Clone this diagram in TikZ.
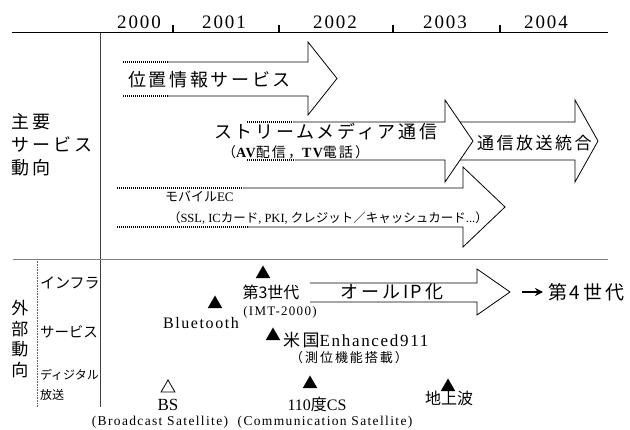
\documentclass[tikz,border=0pt]{standalone}
\usepackage{fontspec}
\setmainfont{Liberation Serif}
\newfontfamily\jp{Noto Sans CJK JP}
\newfontfamily\jpA[LetterSpace=15]{Noto Sans CJK JP}
\newfontfamily\rmA[LetterSpace=10]{Liberation Serif}
\usetikzlibrary{arrows.meta,shapes.geometric}
\begin{document}
\begin{tikzpicture}[x=1pt,y=-1pt,
  every node/.style={inner sep=0pt,outer sep=0pt},
  arr/.style={draw=black,line width=0.8pt,line join=miter},
  dots/.style={line width=1.3pt,dash pattern=on 0.9pt off 1.1pt},
  year/.style={font=\rmA\fontsize{19}{20}\selectfont},
  bigjp/.style={font=\jpA\fontsize{18}{23}\selectfont},
  midjp/.style={font=\jpA\fontsize{17}{20}\selectfont},
  smalljp/.style={font=\jp\fontsize{14.5}{16}\selectfont},
  tri/.style={regular polygon,regular polygon sides=3,fill=black,minimum size=17pt,yshift=-2pt},
  htri/.style={regular polygon,regular polygon sides=3,draw=black,line width=0.8pt,fill=white,minimum size=16pt,yshift=-2pt}]
\useasboundingbox (0,0) rectangle (630,430);
\fill[white] (0,0) rectangle (630,430);

% frame lines
\draw[line width=1pt] (12,33) -- (608,33);
\foreach \x in {173,279,393,500} \draw[line width=1.6pt] (\x,25) -- (\x,33);
\draw[line width=1pt,black!75] (100,33) -- (100,407);
\draw[line width=0.8pt,black!50] (13,259) -- (608,259);
\draw[line width=0.6pt,black!60,dash pattern=on 0.8pt off 0.8pt] (37,259) -- (37,407);

% years
\node[year] (y2000) at (139,22) {2000};
\node[year] (y2001) at (224,22) {2001};
\node[year] (y2002) at (335,22) {2002};
\node[year] (y2003) at (445,22) {2003};
\node[year] (y2004) at (546,22) {2004};

% arrow 1
\fill[white] (168,62) -- (308,62) -- (308,42) -- (337,78.5) -- (308,115) -- (308,96) -- (168,96) -- cycle;
\draw[arr] (168,62) -- (308,62) -- (308,42) -- (337,78.5) -- (308,115) -- (308,96) -- (168,96);
\draw[dots] (123,62) -- (168,62);
\draw[dots] (123,96) -- (168,96);

% arrow 3
\fill[white] (450,122) -- (575,122) -- (575,100) -- (598,141) -- (575,182) -- (575,160) -- (450,160) -- cycle;
\draw[arr] (450,122) -- (575,122) -- (575,100) -- (598,141) -- (575,182) -- (575,160) -- (450,160);

% arrow 2
\fill[white] (293,122) -- (445,122) -- (445,100) -- (473,141) -- (445,182) -- (445,160) -- (295,160) -- cycle;
\draw[arr] (293,122) -- (445,122) -- (445,100) -- (473,141) -- (445,182) -- (445,160) -- (295,160);
\draw[dots] (247,122) -- (293,122);
\draw[dots] (247,160) -- (295,160);

% arrow 4
\fill[white] (243,188) -- (463,188) -- (463,167) -- (505,207) -- (463,247) -- (463,227) -- (248,227) -- cycle;
\draw[arr] (243,188) -- (463,188) -- (463,167) -- (505,207) -- (463,247) -- (463,227) -- (248,227);
\draw[dots] (117,188) -- (243,188);
\draw[dots] (117,227) -- (248,227);

% arrow 5
\draw[arr] (310,283) -- (477,283) -- (477,269) -- (510,292) -- (477,315) -- (477,302) -- (310,302);

% main service texts
\node[bigjp,anchor=west] (t1) at (128,80) {位置情報サービス};
\node[bigjp,anchor=west] (t2) at (214,132) {ストリームメディア通信};
\node[anchor=west,font=\fontsize{14}{16}\selectfont] (t2b) at (222,152)
  {{\jpA （}{\rmA\bfseries AV}{\jpA 配信，}{\rmA\bfseries TV}{\jpA 電話）}};
\node[midjp,anchor=west] (t3) at (477,143) {通信放送統合};
\node[anchor=west,font=\fontsize{13}{15}\selectfont] (t4) at (165,196) {{\jp モバイル}EC};
\node[anchor=west,font=\fontsize{12.5}{15}\selectfont] (t4b) at (168,218)
  {{\jp （}SSL, IC{\jp カード}, PKI, {\jp クレジット／キャッシュカード}...{\jp ）}};

% left labels
\node[bigjp,anchor=west,align=left] (shuyo) at (12,145) {主要\\サービス\\動向};
\node[align=center,font=\jp\fontsize{17}{20.5}\selectfont] (gaibu) at (20,339) {外\\部\\動\\向};
\node[font=\jp\fontsize{15}{16}\selectfont,anchor=west] (infra) at (40,283) {インフラ};
\node[smalljp,anchor=west] (serv) at (40,332) {サービス};
\node[anchor=west,font=\jp\fontsize{12}{14}\selectfont] (digi) at (40,375) {ディジタル};
\node[anchor=west,font=\jp\fontsize{12}{14}\selectfont] (hoso) at (40,395) {放送};

% external trends
\node[tri] (m3g) at (263,272) {};
\node[font=\jp\fontsize{16}{18}\selectfont] (g3) at (271,292) {第3世代};
\node[font=\rmA\fontsize{13}{15}\selectfont] (imt) at (280,312) {(IMT-2000)};
\node[tri] (mbt) at (215,302) {};
\node[font=\rmA\fontsize{16}{18}\selectfont] (bt) at (201,323) {Bluetooth};
\node[tri] (me911) at (273,334) {};
\node[anchor=west,font=\fontsize{17}{19}\selectfont] (e911) at (283,340) {{\jpA 米国}{\rmA Enhanced911}};
\node[font=\jpA\fontsize{13}{15}\selectfont] (sokui) at (349,358) {（測位機能搭載）};
\node[htri] (mbs) at (168,386) {};
\node[font=\fontsize{17}{19}\selectfont] (bs) at (168,405) {BS};
\node[font=\rmA\fontsize{13.5}{15}\selectfont] (bsl) at (160,422) {(Broadcast Satellite)};
\node[tri] (mcs) at (310,382) {};
\node[font=\fontsize{16}{18}\selectfont] (cs) at (317,404) {110{\jp 度}CS};
\node[font=\rmA\fontsize{13.5}{15}\selectfont] (csl) at (325,422) {(Communication Satellite)};
\node[tri] (mtd) at (448,385) {};
\node[font=\jp\fontsize{16}{18}\selectfont] (chijo) at (449,398) {地上波};
\node[bigjp] (allip) at (392,292) {オールIP化};
\node[font=\jpA\fontsize{19}{21}\selectfont,anchor=west] (g4) at (548,292) {第4世代};
\coordinate (a6s) at (522,292);
\draw[line width=1.3pt,-{Stealth[length=8pt,width=8pt]}] (a6s) -- ([xshift=-5pt]g4.west);
\end{tikzpicture}
\end{document}
